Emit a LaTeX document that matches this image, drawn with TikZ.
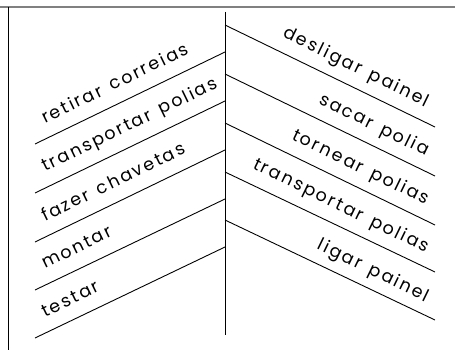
\documentclass[tikz,border=0pt]{standalone}
\usepackage{fontspec}
\setmainfont{Poppins}[LetterSpace=12]
\newcommand{\wg}{\hspace{0.55em}}
\begin{document}
\begin{tikzpicture}[x=1pt,y=-1pt,
  ln/.style={line width=0.9pt,black},
  lbl/.style={font=\fontsize{17.5}{20}\selectfont,inner sep=0pt}]
\useasboundingbox (0,0) rectangle (455,350);
\draw[line width=2pt,gray] (0,7.5) -- (455,7.5);
\draw[ln] (8,7) -- (8,350);
\coordinate (ct) at (225,12);
\coordinate (cb) at (225,335);
\draw[ln] (ct) -- (cb);
% left lines
\foreach \i/\yl/\yr in {1/144/52,2/193/101,3/242/150,4/290/199,5/338/247}{
  \coordinate (L\i a) at (35,\yl);
  \coordinate (L\i b) at (225,\yr);
  \draw[ln] (L\i a) -- (L\i b);
}
% right lines
\foreach \i/\yl/\yr in {1/25/127,2/74/176,3/123/225,4/172/272,5/220/320}{
  \coordinate (R\i a) at (225,\yl);
  \coordinate (R\i b) at (435,\yr);
  \draw[ln] (R\i a) -- (R\i b);
}
% left labels
\node[lbl,anchor=base west,rotate=26] (t1) at (45,124) {retirar\wg correias};
\node[lbl,anchor=base west,rotate=26] (t2) at (45,172) {transportar\wg polias};
\node[lbl,anchor=base west,rotate=26] (t3) at (45,222) {fazer\wg chavetas};
\node[lbl,anchor=base west,rotate=26] (t4) at (45,269) {montar};
\node[lbl,anchor=base west,rotate=26] (t5) at (45,318) {testar};
% right labels
\node[lbl,anchor=base east,rotate=-26] (s1) at (426,107) {desligar\wg painel};
\node[lbl,anchor=base east,rotate=-26] (s2) at (426,156) {sacar\wg polia};
\node[lbl,anchor=base east,rotate=-26] (s3) at (426,205) {tornear\wg polias};
\node[lbl,anchor=base east,rotate=-26] (s4) at (426,253) {transportar\wg polias};
\node[lbl,anchor=base east,rotate=-26] (s5) at (426,302) {ligar\wg painel};
\end{tikzpicture}
\end{document}
